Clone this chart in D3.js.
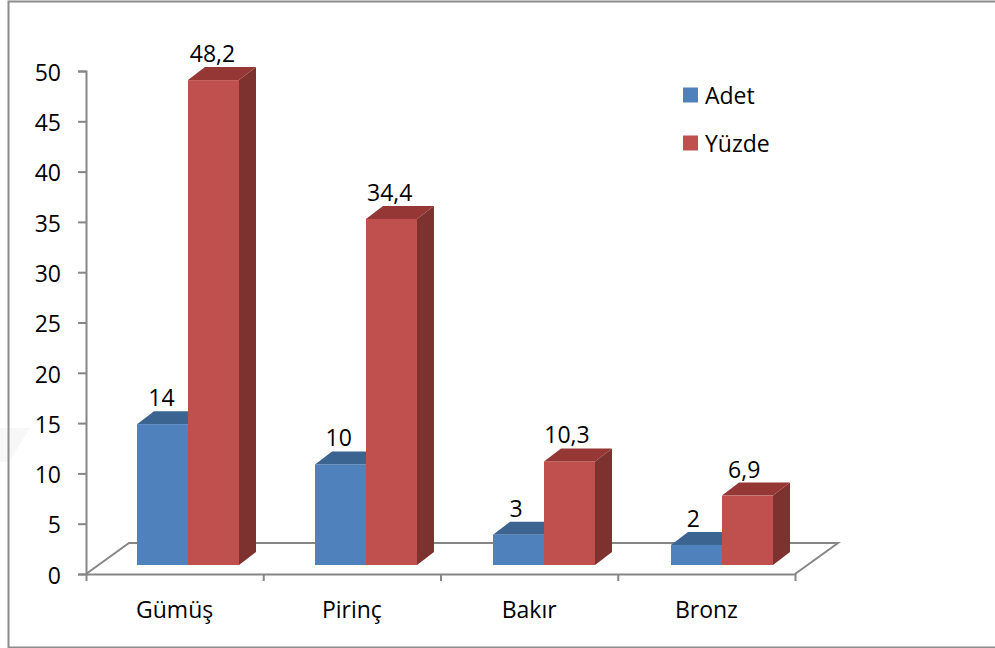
<!DOCTYPE html>
<html>
<head>
<meta charset="utf-8">
<script src="https://cdn.jsdelivr.net/npm/d3@7"></script>
<style>
body { margin: 0; background: #fff; }
text { font-family: "Open Sans", sans-serif; font-size: 23px; fill: #000; }
</style>
</head>
<body>
<script>
var categories = ["Gümüş", "Pirinç", "Bakır", "Bronz"];
var seriesNames = ["Adet", "Yüzde"];
var adet = [14, 10, 3, 2];
var yuzde = [48.2, 34.4, 10.3, 6.9];
var yTicks = [0, 5, 10, 15, 20, 25, 30, 35, 40, 45, 50];

var width = 995,
    height = 648;

var gray = "#868686";
var fronts = ["#4f81bd", "#c0504d"],
    tops = ["#3c6491", "#953735"],
    sides = ["#2f4f75", "#7d3230"];

var depthX = 17, depthY = -13;

var svg = d3.select("body").append("svg")
    .attr("width", width)
    .attr("height", height)
    .style("display", "block");

// faint smudge on the left edge of the scan
svg.append("path")
    .attr("d", "M0,428L30,428L9,462L0,462Z")
    .attr("fill", "#f7f7f7");

// outer frame, right edge runs off the picture
svg.append("path")
    .attr("d", "M" + (width + 2) + ",1.5H8.5V647.5H" + (width + 2))
    .attr("fill", "none")
    .attr("stroke", "#8c8c8c")
    .attr("stroke-width", 2);

var y = d3.scaleLinear().domain([0, 50]).range([574, 71]);
var barHeight = d3.scaleLinear().domain([0, 50]).range([0, 503]);

// bars sit a little behind the axis corner
var barBase = 565;
var x0 = d3.scaleBand().domain(categories).range([137, 849]);
var x1 = d3.scaleBand().domain(seriesNames).range([0, 102]);
var xLabel = d3.scaleBand().domain(categories).range([86, 795]);
var xTick = d3.scaleLinear().domain([0, 4]).range([86, 795]);

// floor
var floorL = [[86, 574], [129, 543], [838, 543], [795, 574]];
svg.append("path")
    .attr("d", d3.line()(floorL))
    .attr("fill", "none")
    .attr("stroke", gray)
    .attr("stroke-width", 2);

// axes
var yAxis = d3.axisLeft(y).tickValues(yTicks).tickSize(8).tickPadding(17);
var gy = svg.append("g").attr("transform", "translate(86,0)").call(yAxis);
gy.attr("font-family", null).attr("font-size", null);
gy.select(".domain").attr("stroke", gray).attr("stroke-width", 2);
gy.selectAll("line").attr("stroke", gray).attr("stroke-width", 2);
gy.selectAll("text").attr("dy", "0.4em").attr("x", -25);

var xAxis = d3.axisBottom(xTick).ticks(4).tickFormat("").tickSize(7).tickSizeOuter(0);
var gx = svg.append("g").attr("transform", "translate(0,574)").call(xAxis);
gx.select(".domain").attr("stroke", gray).attr("stroke-width", 2);
gx.selectAll("line").attr("stroke", gray).attr("stroke-width", 2);

svg.selectAll("text.cat")
    .data(categories)
    .enter().append("text")
    .attr("class", "cat")
    .attr("x", function (d) { return xLabel(d) + xLabel.bandwidth() / 2; })
    .attr("y", 618)
    .attr("text-anchor", "middle")
    .text(function (d) { return d; });

// bars, blue first so the red one covers its side
var values = [adet, yuzde];
seriesNames.forEach(function (name, s) {
    var w = x1.bandwidth();
    var bars = svg.selectAll("g.bar-" + s)
        .data(categories)
        .enter().append("g")
        .attr("class", "bar-" + s)
        .attr("transform", function (d) { return "translate(" + (x0(d) + x1(name)) + "," + barBase + ")"; });

    bars.append("path")
        .attr("fill", sides[s])
        .attr("d", function (d, i) {
            var h = barHeight(values[s][i]);
            return d3.line()([[w, 0], [w + depthX, depthY], [w + depthX, depthY - h], [w, -h]]) + "Z";
        });
    bars.append("path")
        .attr("fill", tops[s])
        .attr("d", function (d, i) {
            var h = barHeight(values[s][i]);
            return d3.line()([[0, -h], [depthX, depthY - h], [w + depthX, depthY - h], [w, -h]]) + "Z";
        });
    bars.append("rect")
        .attr("fill", fronts[s])
        .attr("width", w)
        .attr("y", function (d, i) { return -barHeight(values[s][i]); })
        .attr("height", function (d, i) { return barHeight(values[s][i]); });
});

// data labels use the decimal comma, spaced like the axis not the bars
seriesNames.forEach(function (name, s) {
    svg.selectAll("text.val-" + s)
        .data(categories)
        .enter().append("text")
        .attr("class", "val-" + s)
        .attr("text-anchor", "middle")
        .attr("x", function (d) { return xLabel(d) + 50 + x1(name) + x1.bandwidth() / 2; })
        .attr("y", function (d, i) { return barBase - barHeight(values[s][i]) - 18; })
        .text(function (d, i) { return String(values[s][i]).replace(".", ","); });
});

// legend
var legendY = d3.scalePoint().domain(seriesNames).range([95, 143]);
var legend = svg.selectAll("g.legend")
    .data(seriesNames)
    .enter().append("g")
    .attr("class", "legend")
    .attr("transform", function (d) { return "translate(683," + legendY(d) + ")"; });
legend.append("rect")
    .attr("y", -7.5)
    .attr("width", 15)
    .attr("height", 15)
    .attr("fill", function (d, i) { return fronts[i]; });
legend.append("text")
    .attr("x", 22)
    .attr("y", 9)
    .text(function (d) { return d; });
</script>
</body>
</html>
